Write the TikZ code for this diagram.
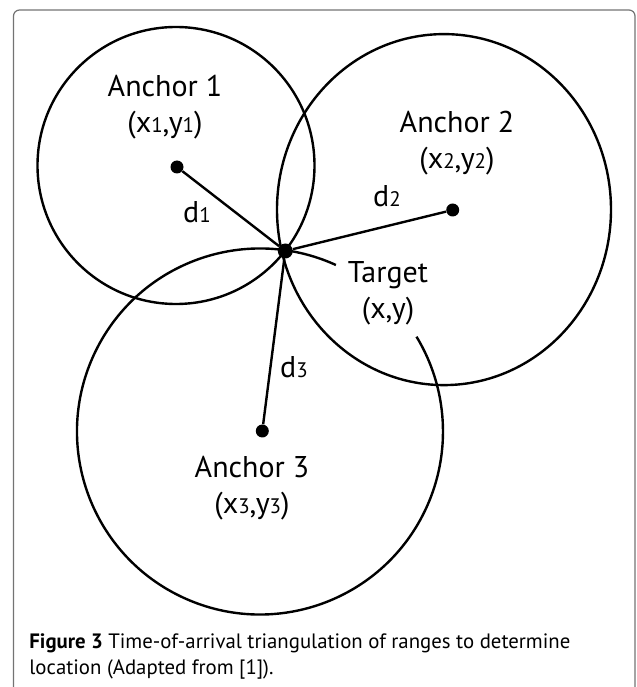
\documentclass[tikz,border=0pt]{standalone}
\usepackage{fontspec}
\setmainfont{PT Sans}
\usetikzlibrary{positioning}
\tikzset{
  station/.style   = {fill, circle, inner sep=0pt, minimum size=6.5pt},
  tgtdot/.style    = {fill, circle, inner sep=0pt, minimum size=7.5pt},
  rangeline/.style = {line width=1.2pt},
  frame/.style     = {draw=black!55, line width=0.6pt, rounded corners=3pt},
  lbl/.style       = {font=\fontsize{15}{18}\selectfont, align=center, inner sep=0pt},
  captext/.style   = {font=\fontsize{10.4}{13.5}\selectfont, inner sep=0pt, anchor=base west},
}
\newcommand\idx[1]{{\fontsize{10.5}{10}\selectfont #1}}

\begin{document}
\begin{tikzpicture}[x=0.5pt,y=0.5pt]
\useasboundingbox (0,0) rectangle (637,687);
% panel frame, open at the bottom
\draw[frame] (13.5,-10) -- (13.5,677) -- (635,677) -- (635,-10);

% ranges round the anchors
\draw[rangeline] (176,521.5) circle[radius=138.5];
\draw[rangeline] (444,477.4) ellipse[x radius=167, y radius=175.5];
\draw[rangeline] (260,255.5) ++(65.5:183) arc[start angle=65.5, end angle=391.2, radius=183];

% anchors and target
\node[station] (a1) at (177,520) {};
\node[station] (a2) at (452.7,477) {};
\node[station] (a3) at (262.3,256) {};
\node[tgtdot] (tgt) at (285.3,436) {};
\draw[rangeline] (a1) -- (tgt);
\draw[rangeline] (a2) -- (tgt);
\draw[rangeline] (a3) -- (tgt);

% labels
\node[lbl] (l1) at (165,580) {Anchor 1\\(x\idx{1},y\idx{1})};
\node[lbl] (l2) at (457,544) {Anchor 2\\(x\idx{2},y\idx{2})};
\node[lbl] (l3) at (252,199) {Anchor 3\\(x\idx{3},y\idx{3})};
\node[lbl] (lt) at (388,394) {Target\\(x,y)};
\node[lbl] (d1) at (197,475) {d\idx{1}};
\node[lbl] (d2) at (387,491) {d\idx{2}};
\node[lbl] (d3) at (294,320) {d\idx{3}};

% caption
\node[captext] (cap1) at (29,39) {\textbf{Figure 3} Time-of-arrival triangulation of ranges to determine};
\node[captext] (cap2) at (29,12) {location (Adapted from [1]).};
\end{tikzpicture}
\end{document}
